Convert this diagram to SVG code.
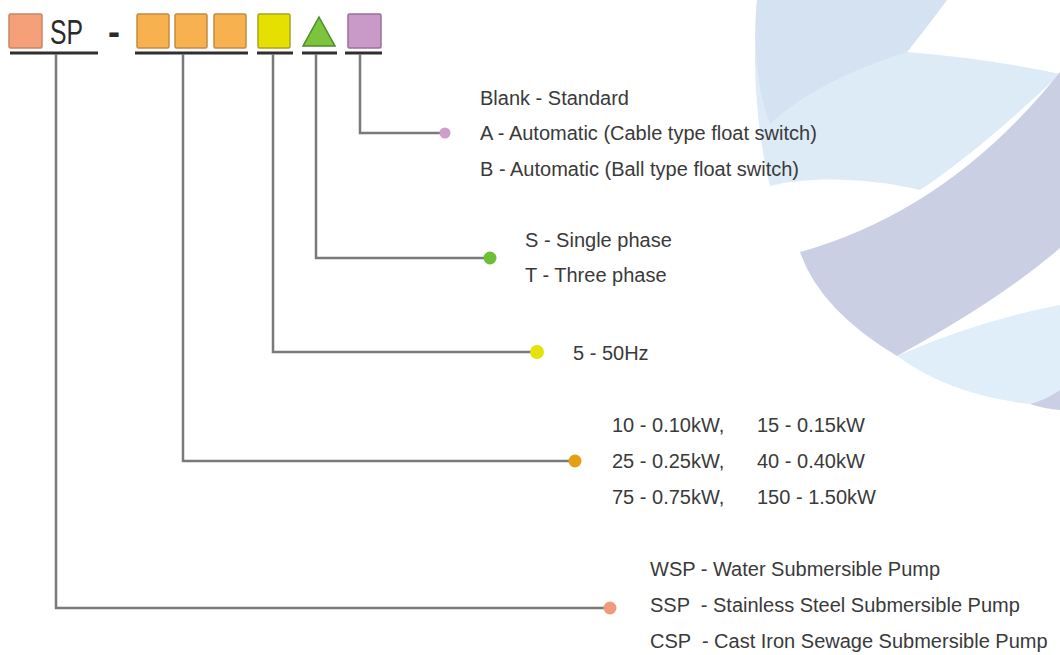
<svg xmlns="http://www.w3.org/2000/svg" width="1060" height="655" viewBox="0 0 1060 655">
  <style>
    .t { font-family: "Liberation Sans", Arial, sans-serif; font-size: 20px; fill: #3a3a3a; white-space: pre; }
    .ul { stroke: #2f2f2f; stroke-width: 3; fill: none; }
    .cn { stroke: #7a7a7a; stroke-width: 2.5; fill: none; }
    .box { stroke-width: 1.5; }
  </style>
  <rect width="1060" height="655" fill="#ffffff"/>
  <g id="background">
    <path d="M757,0 L947,0 Q926,28 907,52 Q985,58 1060,74 Q980,150 920,190 C870,178 810,176 770,186 C756,130 752,60 757,0 Z" fill="#ddebf7"/>
    <path d="M757,0 L947,0 Q926,28 907,52 C850,70 800,95 770,124 C757,90 753,40 757,0 Z" fill="#d4e2f1"/>
    <path d="M1060,72 Q950,210 800,252 Q820,310 897,356 Q1000,300 1060,248 Z" fill="#cbcfe3"/>
    <path d="M897,356 Q980,320 1060,305 L1060,390 Q1045,400 1030,404 Q950,395 897,356 Z" fill="#e0eef9"/>
    <path d="M1030,404 Q1045,400 1060,390 L1060,410 Q1045,409 1030,404 Z" fill="#cbcfe3"/>
  </g>

  <g id="code-type">
    <rect class="box" x="9" y="14" width="33" height="34" rx="1.5" fill="#f6a07a" stroke="#c8846a"/>
    <text x="50" y="44" font-family="Liberation Sans, Arial, sans-serif" font-size="35" fill="#2a2a2a" textLength="33" lengthAdjust="spacingAndGlyphs">SP</text>
    <line class="ul" x1="10" y1="53" x2="98" y2="53"/>
  </g>
  <text id="code-dash" x="108" y="44" font-family="Liberation Sans, Arial, sans-serif" font-size="36" font-weight="bold" fill="#2a2a2a">-</text>
  <g id="code-power">
    <rect class="box" x="137" y="14" width="32" height="34" rx="1.5" fill="#f7b14e" stroke="#c48a42"/>
    <rect class="box" x="175" y="14" width="32" height="34" rx="1.5" fill="#f7b14e" stroke="#c48a42"/>
    <rect class="box" x="214" y="14" width="32" height="34" rx="1.5" fill="#f7b14e" stroke="#c48a42"/>
    <line class="ul" x1="135" y1="53" x2="248" y2="53"/>
  </g>
  <g id="code-freq">
    <rect class="box" x="258" y="14" width="32" height="34" rx="1.5" fill="#e6e000" stroke="#a8a420"/>
    <line class="ul" x1="257" y1="53" x2="293" y2="53"/>
  </g>
  <g id="code-phase">
    <polygon class="box" points="319,17 335,46 303,46" fill="#7cc43c" stroke="#4d8a2a"/>
    <line class="ul" x1="302" y1="53" x2="337" y2="53"/>
  </g>
  <g id="code-option">
    <rect class="box" x="348" y="14" width="33" height="34" rx="1.5" fill="#c99ac8" stroke="#9a7098"/>
    <line class="ul" x1="345" y1="53" x2="382" y2="53"/>
  </g>

  <g id="connectors">
    <polyline class="cn" points="360,54 360,133 445,133"/>
    <polyline class="cn" points="316,54 316,258 490,258"/>
    <polyline class="cn" points="273,54 273,352 537,352"/>
    <polyline class="cn" points="183,54 183,461 575,461"/>
    <polyline class="cn" points="56,54 56,608 610,608"/>
    <circle cx="445" cy="133" r="5.5" fill="#d09ccc"/>
    <circle cx="490" cy="258" r="6.5" fill="#6cbf36"/>
    <circle cx="537" cy="352" r="7" fill="#e4e20a"/>
    <circle cx="575" cy="461" r="6.5" fill="#e4a010"/>
    <circle cx="610" cy="608" r="6.5" fill="#f09a7c"/>
  </g>

  <g id="desc-option">
    <text class="t" x="480" y="105">Blank - Standard</text>
    <text class="t" x="480" y="140">A - Automatic (Cable type float switch)</text>
    <text class="t" x="480" y="176">B - Automatic (Ball type float switch)</text>
  </g>
  <g id="desc-phase">
    <text class="t" x="525" y="247">S - Single phase</text>
    <text class="t" x="525" y="282">T - Three phase</text>
  </g>
  <g id="desc-freq">
    <text class="t" x="573" y="360">5 - 50Hz</text>
  </g>
  <g id="desc-power">
    <text class="t" x="612" y="432">10 - 0.10kW,<tspan x="757">15 - 0.15kW</tspan></text>
    <text class="t" x="612" y="468">25 - 0.25kW,<tspan x="757">40 - 0.40kW</tspan></text>
    <text class="t" x="612" y="504">75 - 0.75kW,<tspan x="757">150 - 1.50kW</tspan></text>
  </g>
  <g id="desc-type">
    <text class="t" x="650" y="576">WSP - Water Submersible Pump</text>
    <text class="t" x="650" y="612">SSP  - Stainless Steel Submersible Pump</text>
    <text class="t" x="650" y="648">CSP  - Cast Iron Sewage Submersible Pump</text>
  </g>
</svg>
